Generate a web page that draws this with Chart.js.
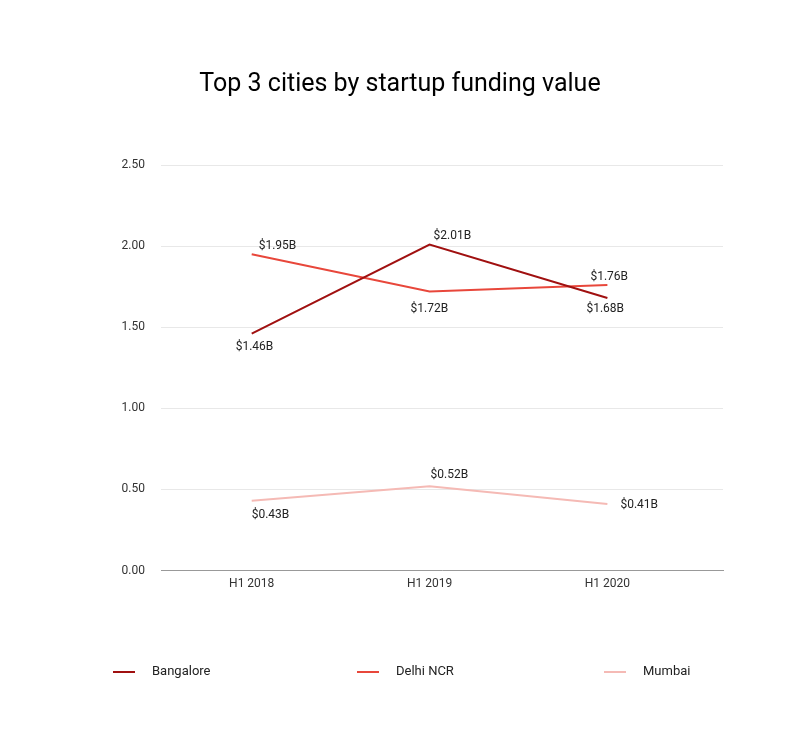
<!DOCTYPE html>
<html>
<head>
<meta charset="utf-8">
<script src="https://cdn.jsdelivr.net/npm/chart.js@4"></script>
<style>
  html, body { margin: 0; padding: 0; background: #fff; }
  #wrap { width: 800px; height: 740px; }
</style>
</head>
<body>
<div id="wrap"><canvas id="chart" width="800" height="740"></canvas></div>
<script>
// data
const periods = ['H1 2018', 'H1 2019', 'H1 2020'];
const bangalore = [1.46, 2.01, 1.68];
const delhiNcr = [1.95, 1.72, 1.76];
const mumbai = [0.43, 0.52, 0.41];
const yTicks = [0, 0.5, 1, 1.5, 2, 2.5];

// label placement (px offsets from point, text left-aligned)
const labelOffsets = {
    Bangalore: [[-16, 13], [4, -8], [-21, 11]],
    'Delhi NCR': [[7, -8], [-19, 17], [-17, -8]],
    Mumbai: [[0, 14], [1, -11], [13, 1]]
};

const toPoints = arr => arr.map((v, i) => ({ x: i, y: v }));
const fmt = v => '$' + v.toFixed(2) + 'B';

const pointLabels = {
    id: 'pointLabels',
    afterDatasetsDraw(chart) {
        const ctx = chart.ctx;
        ctx.save();
        ctx.font = '12px Roboto';
        ctx.fillStyle = '#222';
        ctx.textAlign = 'left';
        ctx.textBaseline = 'middle';
        chart.data.datasets.forEach((ds, di) => {
            const meta = chart.getDatasetMeta(di);
            const offs = labelOffsets[ds.label];
            meta.data.forEach((pt, i) => {
                ctx.fillText(fmt(ds.data[i].y), pt.x + offs[i][0], pt.y + offs[i][1]);
            });
        });
        ctx.restore();
    }
};

const bottomLegend = {
    id: 'bottomLegend',
    afterDraw(chart) {
        const ctx = chart.ctx;
        const starts = [113, 357, 604];
        const y = 672;
        ctx.save();
        ctx.font = '13px Roboto';
        ctx.textBaseline = 'middle';
        ctx.textAlign = 'left';
        chart.data.datasets.forEach((ds, i) => {
            const x = starts[i];
            ctx.strokeStyle = ds.borderColor;
            ctx.lineWidth = 2;
            ctx.beginPath();
            ctx.moveTo(x, y);
            ctx.lineTo(x + 22, y);
            ctx.stroke();
            ctx.fillStyle = '#222';
            ctx.fillText(ds.label, x + 39, y);
        });
        ctx.restore();
    }
};

new Chart(document.getElementById('chart'), {
    type: 'line',
    data: {
        datasets: [
            { label: 'Bangalore', data: toPoints(bangalore), borderColor: '#a01010' },
            { label: 'Delhi NCR', data: toPoints(delhiNcr), borderColor: '#e8473b' },
            { label: 'Mumbai', data: toPoints(mumbai), borderColor: '#f5bab5' }
        ]
    },
    options: {
        responsive: false,
        animation: false,
        elements: {
            line: { borderWidth: 2, tension: 0 },
            point: { radius: 0 }
        },
        layout: { padding: { left: 77, right: 77, top: 0, bottom: 143 } },
        plugins: {
            legend: { display: false },
            tooltip: { enabled: false },
            title: {
                display: true,
                text: 'Top 3 cities by startup funding value',
                color: '#000',
                font: { family: 'Roboto', size: 25, weight: 'normal' },
                padding: { top: 70, bottom: 65 }
            }
        },
        scales: {
            x: {
                type: 'linear',
                min: -0.51,
                max: 2.65,
                afterBuildTicks: scale => { scale.ticks = periods.map((p, i) => ({ value: i })); },
                ticks: {
                    callback: v => periods[v],
                    color: '#333',
                    font: { family: 'Roboto', size: 12 },
                    padding: 6,
                    maxRotation: 0,
                    autoSkip: false
                },
                grid: { display: false, drawTicks: false },
                border: { display: true, color: '#999', width: 1 }
            },
            y: {
                min: 0,
                max: 2.5,
                afterBuildTicks: scale => { scale.ticks = yTicks.map(v => ({ value: v })); },
                afterFit: scale => { scale.width = 84; },
                ticks: {
                    callback: v => v.toFixed(2),
                    color: '#333',
                    font: { family: 'Roboto', size: 12 },
                    padding: 16
                },
                grid: { color: '#e8e8e8', drawTicks: false },
                border: { display: false }
            }
        }
    },
    plugins: [pointLabels, bottomLegend]
});
</script>
</body>
</html>
